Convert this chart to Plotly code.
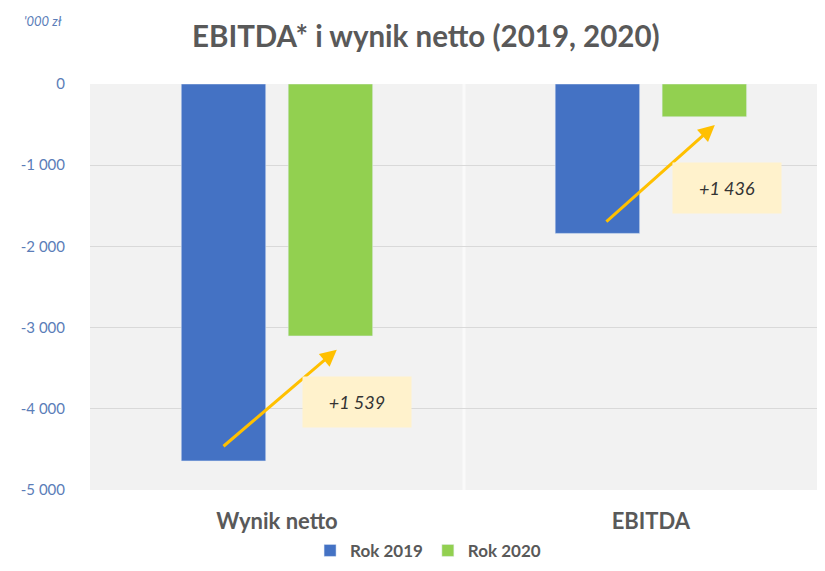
import plotly.graph_objects as go

# data ('000 zl)
categories = ["Wynik netto", "EBITDA"]
rok_2019 = [-4642, -1840]
rok_2020 = [-3103, -404]
y_ticks = [0, -1000, -2000, -3000, -4000, -5000]
y_labels = [f"{v:,}".replace(",", " ") for v in y_ticks]

BLUE = "#4472C4"
GREEN = "#92D050"
GOLD = "#FFC000"
GREY = "#595959"
AXIS_BLUE = "#5B7DB8"
FONT = "Lato"

fig = go.Figure()
fig.add_trace(go.Bar(x=[0, 1], y=rok_2019, name="Rok 2019", marker_color=BLUE))
fig.add_trace(go.Bar(x=[0, 1], y=rok_2020, name="Rok 2020", marker_color=GREEN))

# arrow tail/tip and label offsets relative to each category / bar end
arrow_off = [
    dict(tx=-0.147, ty=165, hx=0.160, hy=-169, lx=0.214, ly=-3911),
    dict(tx=-0.123, ty=130, hx=0.171, hy=-100, lx=0.203, ly=-1279),
]
for i, (a, b) in enumerate(zip(rok_2019, rok_2020)):
    o = arrow_off[i]
    fig.add_annotation(
        x=i + o["hx"], y=b + o["hy"], ax=i + o["tx"], ay=a + o["ty"],
        xref="x", yref="y", axref="x", ayref="y",
        text="", showarrow=True, arrowhead=2, arrowsize=1.1,
        arrowwidth=3, arrowcolor=GOLD, standoff=0,
    )
    label = "+" + f"{b - a:,}".replace(",", " ")
    fig.add_annotation(
        x=i + o["lx"], y=o["ly"], xref="x", yref="y",
        text="<i>" + label + "</i>", showarrow=False,
        bgcolor="#FFF2CC", width=90, height=32, borderpad=9,
        font=dict(family=FONT, size=18, color="#333333"),
    )

# light divider between the two categories
fig.add_shape(type="line", xref="x", yref="y", x0=0.5, x1=0.5, y0=-5000, y1=0,
              line=dict(color="#FAFAFA", width=3), layer="below")

fig.add_annotation(
    x=-0.0915, y=1.155, xref="paper", yref="paper", text="<i>'000 zł</i>",
    showarrow=False, xanchor="left", yanchor="middle",
    font=dict(family=FONT, size=13, color=AXIS_BLUE),
)

# the page body adds an 8px offset, so margins are shifted to compensate
fig.update_layout(
    width=825, height=571,
    margin=dict(l=82, r=0, t=76, b=89, autoexpand=False),
    paper_bgcolor="white", plot_bgcolor="#F2F2F2",
    title=dict(text="EBITDA* i wynik netto (2019, 2020)", xref="paper", x=0.452,
               xanchor="center", y=0.949, yanchor="middle",
               font=dict(family=FONT, size=29.5, color=GREY, weight="bold")),
    barmode="group", bargap=0.428, bargroupgap=0.21,
    showlegend=True,
    legend=dict(orientation="h", x=0.455, xanchor="center", y=-0.15, yanchor="middle",
                font=dict(family=FONT, size=17, color=GREY, weight="bold"),
                traceorder="normal"),
    xaxis=dict(tickvals=[0, 1], ticktext=categories, range=[-0.5, 1.487],
               showgrid=False, zeroline=False, showline=False, automargin=False,
               ticklabelstandoff=16,
               tickfont=dict(family=FONT, size=22, color=GREY, weight="bold")),
    yaxis=dict(tickvals=y_ticks, ticktext=y_labels, range=[-5000, 0],
               gridcolor="#D9D9D9", gridwidth=1, zeroline=False,
               showline=False, automargin=False, ticklabelstandoff=24,
               tickfont=dict(family=FONT, size=15, color=AXIS_BLUE)),
    font=dict(family=FONT),
)

fig.write_html("out.html")
